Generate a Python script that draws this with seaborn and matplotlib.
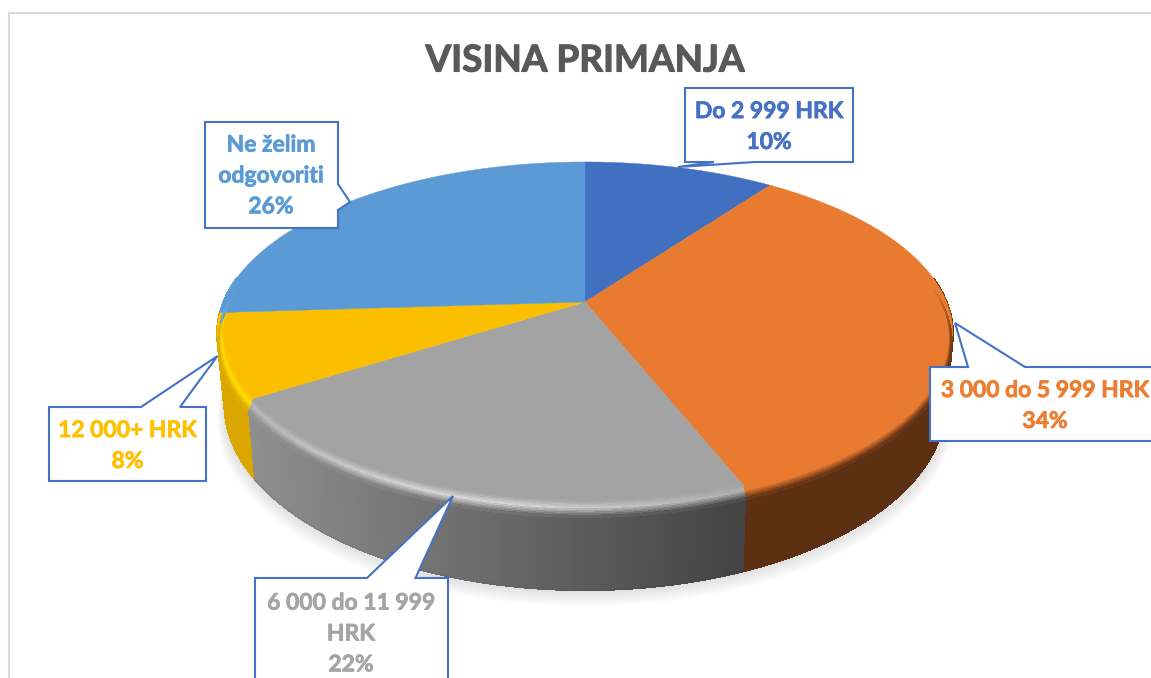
import matplotlib
matplotlib.use("Agg")
import matplotlib.patheffects as pe
import matplotlib.pyplot as plt
from matplotlib.collections import PolyCollection
from matplotlib.colors import to_rgb
import numpy as np
import seaborn as sns

sns.set_theme(style="white")
plt.rcParams["font.family"] = ["Lato", "DejaVu Sans"]

# Data
title = "VISINA PRIMANJA"
labels = ["Do 2 999 HRK", "3 000 do 5 999 HRK", "6 000 do 11 999\nHRK", "12 000+ HRK", "Ne želim\nodgovoriti"]
values = [10, 34, 22, 8, 26]

# Style
palette = sns.color_palette(["#4472c4", "#ed7d31", "#a5a5a5", "#ffc000", "#5b9bd5"])
faces = ["#4170c0", "#e97b30", "#a3a3a3", "#fbbf00", "#5b9ad5"]
walls = ["#2f4f88", "#5e3013", "#707070", "#dca600", "#6aa8e0"]
rims = ["#4170c0", "#e97b30", "#d6d6d6", "#ffdc00", "#78b8f0"]
box_edge = "#4472c4"

# Perspective of the disc, in pixels
cx, cy = 585, 302
rad_x, rad_y, tilt = 361.7, 165.8, 0.184
depth_slope, depth_base, depth_ref = 1.082, 590, 505
depth_shrink = 0.98
bevel_depth = 0.14

# box polygon, pointer tip and text centre for each label
boxes = [
    dict(x0=685, x1=853, y0=88, y1=162, tip=(678, 167), notch=("b", 755, 714), text=(769, 127)),
    dict(x0=930, x1=1165, y0=367, y1=441, tip=(955, 323), notch=("t", 968, 1025), text=(1045, 406)),
    dict(x0=255, x1=448, y0=578, y1=695, tip=(453, 496), notch=("t", 367, 415.5), text=(351, 634)),
    dict(x0=49, x1=206, y0=407, y1=481, tip=(217.5, 356), notch=("t", 141, 180), text=(127.5, 446)),
    dict(x0=205, x1=338, y0=122, y1=228, tip=(350, 202), notch=("r", 184, 210), text=(271, 176)),
]


def project(theta, r=1.0):
    w = 1 + tilt * r * np.cos(theta)
    return cx + rad_x * r * np.sin(theta) / w, cy - rad_y * r * np.cos(theta) / w


def drop(x, y, frac=1.0):
    xb = cx + depth_shrink * (x - cx)
    yb = depth_base + depth_slope * (y - depth_ref)
    return x + frac * (xb - x), y + frac * (yb - y)


def mix(a, b, t):
    a, b = np.array(to_rgb(a)), np.array(to_rgb(b))
    return tuple(a + (b - a) * t)


def box_path(b):
    side, n0, n1 = b["notch"]
    x0, x1, y0, y1 = b["x0"], b["x1"], b["y0"], b["y1"]
    if side == "t":
        return [(x0, y0), (n0, y0), b["tip"], (n1, y0), (x1, y0), (x1, y1), (x0, y1)]
    if side == "b":
        return [(x0, y0), (x1, y0), (x1, y1), (n0, y1), b["tip"], (n1, y1), (x0, y1)]
    return [(x0, y0), (x1, y0), (x1, n0), b["tip"], (x1, n1), (x1, y1), (x0, y1)]


fig = plt.figure(figsize=(11.51, 6.78), dpi=100)
ax = fig.add_axes([0, 0, 1, 1])
ax.set_xlim(0, 1151)
ax.set_ylim(678, 0)
ax.axis("off")

# chart frame
ax.plot([9, 9, 1151], [678, 13, 13], color="#d9d9d9", lw=1.5, zorder=1)

edges = np.cumsum([0] + values) / sum(values) * 2 * np.pi

# soft shadow under the disc
ring = np.linspace(0.4 * np.pi, 1.6 * np.pi, 361)
rx, ry = project(ring)
bx, by = drop(rx, ry)
for k in range(1, 17, 1):
    ax.fill(cx + (bx - cx) * (1 + k * 0.0012), by + k, color="#000000", alpha=0.009, lw=0, zorder=2)

# side wall, then top, then bevel
for i, val in enumerate(values):
    th = np.linspace(edges[i], edges[i + 1], max(int(val * 8), 8))
    th = th[np.cos(th) < 0.15]
    if len(th) < 2:
        continue
    x, y = project(th)
    xb, yb = drop(x, y)
    quads, cols = [], []
    for j in range(len(th) - 1):
        quads.append([(x[j], y[j]), (x[j + 1], y[j + 1]), (xb[j + 1], yb[j + 1]), (xb[j], yb[j])])
        if i == 2:
            t = np.clip((x[j] - 250) / (745 - 250), 0, 1)
            cols.append(mix("#8e8e8e", "#434343", t))
        else:
            cols.append(to_rgb(walls[i]))
    ax.add_collection(PolyCollection(quads, facecolors=cols, edgecolors="face", linewidths=0.6,
                                     antialiaseds=False, zorder=3))
    # smooth the lower outline of the wall
    if i == 2:
        ax.scatter(xb, yb, s=0.8, c=[mix("#7a7a7a", "#3a3a3a", np.clip((v - 250) / 495, 0, 1)) for v in xb],
                   linewidths=0, zorder=3)
    else:
        ax.plot(xb, yb, color=walls[i], lw=0.7, zorder=3)

for i, val in enumerate(values):
    th = np.linspace(edges[i], edges[i + 1], max(int(val * 8), 8))
    x, y = project(th)
    ax.fill(np.r_[cx, x], np.r_[cy, y], color=faces[i], lw=0.3, zorder=4)

steps = np.linspace(0, 1, 11)
for i, val in enumerate(values):
    th = np.linspace(edges[i], edges[i + 1], max(int(val * 8), 8))
    ix, iy = project(th, 0.985)
    ox, oy = project(th)
    ex, ey = drop(ox, oy, bevel_depth)
    for s0, s1 in zip(steps[:-1], steps[1:]):
        ax0, ay0 = ix + (ex - ix) * s0, iy + (ey - iy) * s0
        ax1, ay1 = ix + (ex - ix) * s1, iy + (ey - iy) * s1
        quads, cols = [], []
        for j in range(len(th) - 1):
            facing = np.clip((0.15 - np.cos(th[j])) / 0.35, 0, 1)
            if facing <= 0:
                continue
            quads.append([(ax0[j], ay0[j]), (ax0[j + 1], ay0[j + 1]), (ax1[j + 1], ay1[j + 1]), (ax1[j], ay1[j])])
            sm = (s0 + s1) / 2
            rim = rims[i]
            wall = walls[i]
            if i == 2:
                hl = np.exp(-(((ax0[j] - 470) / 230) ** 2))
                rim = mix(faces[i], rims[i], hl)
                wall = mix("#8e8e8e", "#434343", np.clip((ax0[j] - 250) / 495, 0, 1))
            if sm < 0.45:
                col = mix(faces[i], rim, sm / 0.45)
            else:
                col = mix(rim, wall, (sm - 0.45) / 0.55)
            cols.append(mix(faces[i], col, facing))
        if quads:
            ax.add_collection(PolyCollection(quads, facecolors=cols, edgecolors="face", linewidths=0.5,
                                             antialiaseds=False, zorder=5))

# callouts
for lab, val, col, b in zip(labels, values, palette, boxes):
    ax.fill(*zip(*box_path(b)), facecolor="white", edgecolor=box_edge, lw=1.5, zorder=6)
    ax.text(b["text"][0], b["text"][1], f"{lab}\n{val}%", color=col, fontsize=16.5,
            fontweight="bold", ha="center", va="center", linespacing=1.58, zorder=7, clip_on=True,
            path_effects=[pe.withStroke(linewidth=0.5, foreground=col)])

ax.text(585, 61, title, color="#595959", fontsize=26.6, fontweight="bold", ha="center", va="center", zorder=7,
        path_effects=[pe.withStroke(linewidth=0.8, foreground="#595959")])

fig.savefig("out.png", dpi=100)
